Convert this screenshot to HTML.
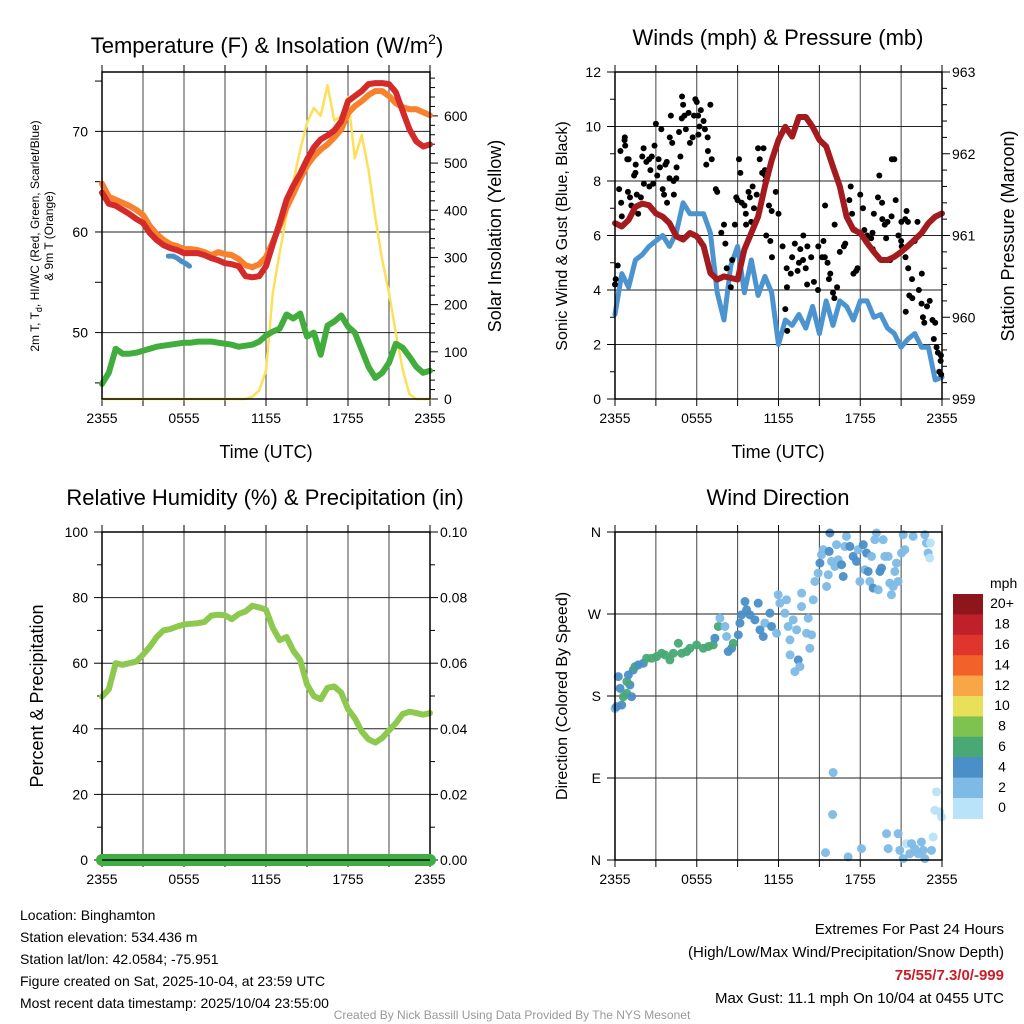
<!DOCTYPE html>
<html><head><meta charset="utf-8"><style>
html,body{margin:0;padding:0;background:#fff;}
svg{display:block;font-family:"Liberation Sans",sans-serif;}
</style></head><body>
<svg id="chart" width="1024" height="1024" viewBox="0 0 1024 1024" xmlns="http://www.w3.org/2000/svg">
<rect width="1024" height="1024" fill="#fff"/>
<g id="p1"></g>
<g id="p2"></g>
<g id="p3"></g>
<g id="p4"></g>
<g id="cb"></g>

<text x="267" y="53" font-size="22" text-anchor="middle">Temperature (F) &amp; Insolation (W/m<tspan dy="-9" font-size="14">2</tspan><tspan dy="9">)</tspan></text>
<text x="778" y="45" font-size="22" text-anchor="middle">Winds (mph) &amp; Pressure (mb)</text>
<text x="265" y="505" font-size="22" text-anchor="middle">Relative Humidity (%) &amp; Precipitation (in)</text>
<text x="778" y="505" font-size="22" text-anchor="middle">Wind Direction</text>

<text x="266" y="458" font-size="18" text-anchor="middle">Time (UTC)</text>
<text x="778" y="458" font-size="18" text-anchor="middle">Time (UTC)</text>
<text font-size="12" text-anchor="middle" transform="translate(39,236) rotate(-90)">2m T, T<tspan font-size="9" dy="3">d</tspan><tspan dy="-3">, HI/WC (Red, Green, Scarlet/Blue)</tspan></text>
<text font-size="12" text-anchor="middle" transform="translate(53,236) rotate(-90)">&amp; 9m T (Orange)</text>
<text font-size="18" text-anchor="middle" transform="translate(501,236) rotate(-90)">Solar Insolation (Yellow)</text>
<text font-size="16" text-anchor="middle" transform="translate(567,236) rotate(-90)">Sonic Wind &amp; Gust (Blue, Black)</text>
<text font-size="18" text-anchor="middle" transform="translate(1014,236) rotate(-90)">Station Pressure (Maroon)</text>
<text font-size="18" text-anchor="middle" transform="translate(43,696) rotate(-90)">Percent &amp; Precipitation</text>
<text font-size="16" text-anchor="middle" transform="translate(567,696) rotate(-90)">Direction (Colored By Speed)</text>

<g font-size="14">
<text x="20" y="920">Location: Binghamton</text>
<text x="20" y="942">Station elevation: 534.436 m</text>
<text x="20" y="964">Station lat/lon: 42.0584; -75.951</text>
<text x="20" y="986">Figure created on Sat, 2025-10-04, at 23:59 UTC</text>
<text x="20" y="1008">Most recent data timestamp: 2025/10/04 23:55:00</text>
</g>
<g font-size="15" text-anchor="end">
<text x="1004" y="934">Extremes For Past 24 Hours</text>
<text x="1004" y="957">(High/Low/Max Wind/Precipitation/Snow Depth)</text>
<text x="1004" y="980" fill="#c8202a" font-weight="bold">75/55/7.3/0/-999</text>
<text x="1004" y="1003">Max Gust: 11.1 mph On 10/04 at 0455 UTC</text>
</g>
<text x="512" y="1019" font-size="12" fill="#999" text-anchor="middle">Created By Nick Bassill Using Data Provided By The NYS Mesonet</text>
</svg>
<script>
const times=[0,0.5,1,1.5,2,2.5,3,3.5,4,4.5,5,5.5,6,6.5,7,7.5,8,8.5,9,9.5,10,10.5,11,11.5,12,12.5,13,13.5,14,14.5,15,15.5,16,16.5,17,17.5,18,18.5,19,19.5,20,20.5,21,21.5,22,22.5,23,23.5,24];
const tempRed=[63.9,62.8,62.6,62.2,61.8,61.3,60.9,59.9,59.2,58.7,58.4,58.2,57.9,57.9,57.9,57.7,57.4,57.2,56.9,56.8,56.6,55.6,55.5,55.6,56.6,58.8,60.9,63.2,64.6,65.8,67.2,68.4,69.2,69.6,70.1,71.0,73.0,73.5,74.0,74.7,74.8,74.8,74.7,73.9,72.0,70.2,69.0,68.5,68.7];
const temp9m=[64.8,63.5,63.2,62.9,62.6,62.2,61.7,60.6,59.8,59.2,58.8,58.6,58.3,58.3,58.2,58.0,57.7,58.0,57.8,57.7,57.3,56.7,56.5,56.8,57.5,59.0,60.6,62.4,63.8,65.3,66.6,67.5,68.2,68.7,69.4,70.2,71.8,72.5,73.0,73.6,74.0,74.0,73.5,72.8,72.4,72.2,72.2,71.9,71.6];
const dewpoint=[44.9,46.0,48.4,47.9,47.9,48.0,48.2,48.4,48.6,48.7,48.8,48.9,49.0,49.0,49.1,49.1,49.1,49.0,48.9,48.8,48.6,48.7,48.8,49.1,49.7,50.1,50.4,51.8,51.4,51.9,49.6,50.0,47.8,50.7,51.1,51.7,50.6,50.0,48.3,46.6,45.5,46.0,47.0,48.9,48.5,47.6,46.6,46.0,46.2];
const hiTimes=[4.85,5.2,5.5,5.8,6.1,6.4];
const hiTemps=[57.6,57.6,57.4,57.1,56.9,56.6];
const solar=[0,0,0,0,0,0,0,0,0,0,0,0,0,0,0,0,0,0,0,0,0,0,5,18,60,225,310,390,460,528,585,617,600,665,590,600,640,510,560,486,385,295,225,140,62,10,0,0,0];
const windSpeed=[3.1,4.6,4.1,5.1,5.3,5.6,5.8,6.0,5.6,6.1,7.2,6.8,6.8,6.8,6.1,3.9,2.9,4.9,5.6,3.9,5.1,3.8,4.5,3.9,2.0,2.9,2.7,3.1,2.6,3.4,2.4,3.6,2.7,3.6,3.4,2.9,3.6,3.6,3.0,3.1,2.6,2.4,1.9,2.2,2.4,1.9,1.9,0.7,0.8];
const pressure=[961.15,961.11,961.19,961.35,961.39,961.37,961.27,961.23,961.15,960.99,960.95,961.03,960.99,960.87,960.54,960.46,960.5,960.48,960.46,960.83,961.03,961.23,961.6,961.92,962.17,962.33,962.21,962.45,962.45,962.33,962.17,962.09,961.84,961.6,961.23,961.07,961.03,960.91,960.8,960.7,960.7,960.74,960.8,960.87,960.95,961.03,961.15,961.23,961.27];
const gustHours=[0,0.05,0.2,0.3,0.4,0.45,0.5,0.7,0.72,0.75,0.9,1.0,0.95,1.1,1.2,1.4,1.5,1.52,1.6,1.7,1.9,2.0,2.1,2.12,2.3,2.5,2.52,2.6,2.7,2.9,3.0,2.8,3.1,3.2,3.3,3.4,3.5,3.6,3.7,3.8,3.82,4.0,4.02,4.1,4.2,4.3,4.32,4.5,4.52,4.7,4.8,4.9,4.92,5.0,5.1,5.2,5.4,5.5,5.7,5.8,5.9,6.0,6.1,6.3,6.2,6.12,6.5,6.6,6.8,6.7,6.82,7.0,7.1,7.4,7.5,7.8,8.0,8.1,8.2,8.5,8.6,8.8,8.9,9.0,9.1,9.2,9.3,9.5,9.6,9.62,9.8,9.9,10.0,10.1,10.2,10.4,10.6,10.5,10.62,10.8,11.0,10.9,11.02,11.04,11.3,11.5,11.8,12.0,11.1,11.4,11.52,12.3,12.6,12.5,12.62,12.64,12.9,13.0,13.2,13.4,13.5,13.6,13.8,14.0,13.82,14.1,14.12,14.4,14.6,14.9,14.92,15.2,15.4,15.8,15.3,15.42,15.6,15.7,16.0,16.1,16.3,16.12,16.5,16.8,16.9,17.2,17.3,17.4,17.5,17.7,17.8,17.6,18.0,18.2,18.3,18.5,18.8,18.9,18.92,19.0,19.3,19.4,19.6,19.62,19.8,19.9,20.2,20.0,20.3,20.32,20.5,20.6,20.8,21.0,21.02,21.3,21.4,21.5,21.04,21.32,21.52,21.8,21.34,21.6,21.82,22.2,22.0,22.3,22.5,22.52,22.6,22.7,22.9,23.1,23.3,23.5,23.4,23.6,23.7,23.8,23.9,23.92,23.94];
const gustSpeeds=[4.2,4.4,4.9,7.7,9.1,7.2,6.7,9.5,9.6,9.3,8.8,8.8,7.6,7.4,7.1,8.2,8.3,8.6,7.5,6.8,7.4,8.9,9.2,7.9,8.7,8.8,7.8,8.4,8.9,9.3,10.1,7.9,8.2,8.8,8.5,9.9,7.7,7.5,8.6,8.7,7.2,8.1,9.6,10.4,9.4,8.0,7.5,8.1,8.5,9.8,8.9,10.3,11.1,10.8,10.4,9.9,10.5,9.4,9.6,10.4,11.0,10.9,10.4,10.6,10.0,9.7,10.2,9.9,9.6,8.6,9.1,10.8,8.8,7.7,7.6,6.1,6.4,5.7,4.8,4.1,5.1,6.4,7.4,7.3,8.8,8.3,7.2,7.1,6.8,6.4,7.6,7.4,6.5,7.8,7.0,7.5,6.9,9.2,8.8,8.3,8.4,9.2,8.2,8.0,7.1,6.9,7.6,6.8,6.0,5.8,5.2,5.6,4.8,3.3,4.1,2.5,4.6,5.2,5.7,4.7,5.0,5.5,5.1,4.8,6.0,4.2,5.6,5.2,4.3,4.0,5.6,5.2,5.2,4.6,5.8,7.1,5.0,4.4,3.9,3.7,4.1,6.4,5.4,5.6,5.7,7.3,7.8,6.8,4.6,4.7,4.8,6.2,7.5,7.0,6.2,6.0,5.9,6.1,5.5,6.8,7.4,8.2,7.2,6.6,6.4,5.9,5.1,6.5,6.7,8.8,8.8,7.3,6.0,5.8,6.5,6.6,6.9,6.5,5.6,5.2,4.8,4.4,3.2,3.8,3.7,6.5,5.8,4.0,3.5,4.6,3.0,2.8,3.4,3.6,2.9,2.8,2.2,1.9,1.7,1.0,1.4,1.6,0.9];
const humidity=[49.8,52,60,59.5,60,60.5,62.6,65,68,70,70.4,71.2,71.8,72,72.2,72.6,74.5,74.8,74.6,73.4,75,75.8,77.5,77,76.3,70.8,67,68,63.8,61,53.5,50,49,52.5,52.9,51,46,43.2,39.2,36.8,35.8,37.2,39.5,41.7,44.5,45.2,44.8,44.3,44.8];
const precip=[0,0,0,0,0,0,0,0,0,0,0,0,0,0,0,0,0,0,0,0,0,0,0,0,0,0,0,0,0,0,0,0,0,0,0,0,0,0,0,0,0,0,0,0,0,0,0,0,0];
const dirHours=[0,0.12,0.49,0.61,0.86,0.37,1.1,1.22,0.24,0.87,0.98,1.34,1.47,1.71,2.08,2.32,2.69,3.06,3.42,3.67,4.03,4.28,4.65,4.89,5.26,5.5,5.99,6.48,6.85,7.21,7.33,7.58,7.7,8.07,8.19,8.31,8.56,8.68,9.05,9.17,9.29,9.54,9.66,9.9,10.27,10.51,10.64,10.88,11.0,11.37,11.49,11.86,11.98,12.1,12.47,12.59,12.71,12.84,12.85,13.08,13.2,13.33,13.45,13.57,13.69,13.7,14.06,14.18,14.3,14.43,14.55,14.67,14.91,15.04,15.16,15.28,15.53,15.65,15.72,15.77,15.89,16.14,16.26,16.38,16.63,16.75,16.87,16.99,17.24,17.48,17.73,17.85,17.97,18.22,18.34,18.46,18.58,18.7,18.83,18.95,19.07,19.19,19.32,19.44,19.56,19.68,19.8,20.05,20.17,20.29,20.42,20.54,20.66,20.78,21.03,21.15,21.27,21.88,22.74,22.86,22.98,23.1,23.15,16.01,15.97,15.45,17.11,18.09,19.93,20.05,20.78,20.9,21.15,21.39,21.64,21.76,22.0,22.25,22.49,22.62,22.74,23.23,23.35,23.47,23.59,23.84,23.96];
const dirDegrees=[166.4,168.3,170.1,179.3,182.9,188.4,192.1,179.3,201.3,195.8,203.1,208.6,212.3,214.1,215.9,221.4,221.4,223.3,226.9,225.1,219.6,226.9,237.9,226.9,228.8,232.4,236.1,232.4,234.3,236.1,243.4,256.3,265.4,256.3,245.3,228.8,232.4,237.9,247.1,260,269.1,283.7,274.6,269.1,263.6,281.9,252.6,245.3,260,270.9,256.3,248.9,291.1,281.9,270.9,285.6,256.3,241.6,225.1,263.6,206.8,252.6,219.6,212.3,278.2,292.9,248.9,265.4,232.4,247.1,285.6,305.7,314.9,325.9,335.1,340.6,300.2,313.1,338.7,358.9,327.7,322.2,346.1,329.6,324.1,311.2,344.2,355.2,344.2,333.2,327.7,340.6,305.7,346.1,318.6,336.9,316.7,305.7,333.2,298.4,351.6,358.9,296.6,316.7,320.4,351.6,333.2,333.2,303.9,291.1,300.2,316.7,325.9,305.7,336.9,357.1,340.6,355.2,357.1,347.9,336.9,331.4,347.9,96.0,49.9,8.1,3.4,12.5,28.9,12.5,28.9,10.6,1.5,18.0,6.9,18.0,12.5,6.9,19.8,10.6,1.5,10.6,25.3,54.6,74.8,52.8,47.3];
const dirSpeeds=[3,5,5,7,7,5,5,5,5,7,5,5,7,5,5,7,7,7,7,7,7,7,7,7,7,7,7,7,7,7,5,7,3,3,3,5,5,7,5,5,5,5,5,5,5,5,5,5,3,5,5,3,3,3,3,3,3,3,3,3,3,3,5,3,3,3,3,3,3,3,3,3,3,5,3,3,3,3,5,5,3,3,3,3,5,5,3,3,5,5,5,3,3,5,3,5,5,3,3,5,3,3,3,5,5,3,3,3,3,3,3,3,3,3,3,3,3,3,3,3,3,1,1,3,3,3,3,3,3,3,3,3,3,1,3,3,3,3,3,3,3,3,1,1,1,1,1];
const xTickLabels=["2355","0555","1155","1755","2355"];
const tempTicks=[50,60,70];
const solarTicks=[0,100,200,300,400,500,600];
const windTicks=[0,2,4,6,8,10,12];
const presTicks=[959,960,961,962,963];
const rhTicks=[0,20,40,60,80,100];
const prTicks=["0.00","0.02","0.04","0.06","0.08","0.10"];
const dirLabels=["N","E","S","W","N"];
const cbLabels=["20+","18","16","14","12","10","8","6","4","2","0"];
const cbColors=["#8e1519","#c0202a","#e0352c","#f26128","#f9a746","#e9e05a","#7ec24f","#48a974","#4a8fc7","#7dbbe6","#b8e3f8"];

const NS="http://www.w3.org/2000/svg";
function mk(parent,tag,attrs){const e=document.createElementNS(NS,tag);for(const k in attrs)e.setAttribute(k,attrs[k]);parent.appendChild(e);return e;}
function scale(d0,d1,r0,r1){return v=>r0+(v-d0)/(d1-d0)*(r1-r0);}
function pathD(xs,ys,fx,fy){return xs.map((x,i)=>(i?"L":"M")+fx(x).toFixed(1)+","+fy(ys[i]).toFixed(1)).join("");}

function frame(g,L,R,T,B,hLines){
  const sx=scale(0,24,L,R);
  for(let h=3;h<24;h+=3){const l=mk(g,"line",{x1:sx(h),x2:sx(h),y1:T,y2:B,stroke:"#444","stroke-width":1});}
  hLines.forEach(y=>{const l=mk(g,"line",{x1:L,x2:R,y1:y,y2:y,stroke:"#222","stroke-width":1});});
  for(let h=0;h<=24;h+=3){mk(g,"line",{x1:sx(h),x2:sx(h),y1:B,y2:B+7,stroke:"#000"});mk(g,"line",{x1:sx(h),x2:sx(h),y1:T,y2:T-7,stroke:"#000"});}
  xTickLabels.forEach((t,i)=>{const e=mk(g,"text",{x:sx(i*6),y:B+24,"font-size":14,"text-anchor":"middle"});e.textContent=t;});
  return sx;
}
function border(g,L,R,T,B){const r=mk(g,"rect",{x:L,y:T,width:R-L,height:B-T,fill:"none",stroke:"#000","stroke-width":1.5});}
function lineMark(g,xs,ys,fx,fy,color,w,name){const p=mk(g,"path",{d:pathD(xs,ys,fx,fy),fill:"none",stroke:color,"stroke-width":w,"stroke-linejoin":"round","stroke-linecap":"round"});return p;}

// Panel 1
(function(){
 const g=document.getElementById("p1");const L=102,R=430,T=72,B=399;
 const sy=scale(43.4,75.9,B,T), sy2=scale(0,693,B,T);
 const sx=frame(g,L,R,T,B,tempTicks.map(sy));
 for(let v=45;v<=75;v+=5){mk(g,"line",{x1:L-7,x2:L,y1:sy(v),y2:sy(v),stroke:"#000"});}
 tempTicks.forEach(v=>{const e=mk(g,"text",{x:L-14,y:sy(v)+5,"font-size":14,"text-anchor":"end"});e.textContent=v;});
 for(let v=0;v<=680;v+=20){mk(g,"line",{x1:R,x2:R+(v%100===0?8:5),y1:sy2(v),y2:sy2(v),stroke:"#000"});}
 solarTicks.forEach(v=>{const e=mk(g,"text",{x:R+14,y:sy2(v)+5,"font-size":14});e.textContent=v;});
 lineMark(g,times,solar,sx,sy2,"#fde05a",2.5,"solar-insolation-line");
 lineMark(g,times,temp9m,sx,sy,"#f7812c",6,"temp-9m-line");
 lineMark(g,times,tempRed,sx,sy,"#d42a2a",6,"temp-2m-line");
 lineMark(g,times,dewpoint,sx,sy,"#41ad3d",6,"dewpoint-line");
 lineMark(g,hiTimes,hiTemps,sx,sy,"#4a8fc7",5,"heat-index-line");
 border(g,L,R,T,B);
})();
// Panel 2
(function(){
 const g=document.getElementById("p2");const L=615,R=942,T=72,B=399;
 const sy=scale(0,12,B,T), sy2=scale(959,963,B,T);
 const sx=frame(g,L,R,T,B,[2,4,6,8,10].map(sy));
 for(let v=0;v<=12;v+=1){mk(g,"line",{x1:L-(v%2?5:8),x2:L,y1:sy(v),y2:sy(v),stroke:"#000"});}
 windTicks.forEach(v=>{const e=mk(g,"text",{x:L-14,y:sy(v)+5,"font-size":14,"text-anchor":"end"});e.textContent=v;});
 for(let v=959;v<=963.001;v+=0.2){const m=Math.abs(v-Math.round(v))<0.01;mk(g,"line",{x1:R,x2:R+(m?8:5),y1:sy2(v),y2:sy2(v),stroke:"#000"});}
 presTicks.forEach(v=>{const e=mk(g,"text",{x:R+10,y:sy2(v)+5,"font-size":14});e.textContent=v;});
 lineMark(g,times,windSpeed,sx,sy,"#4c94d0",5,"sonic-wind-line");
 gustHours.forEach((h,i)=>{const c=mk(g,"circle",{cx:sx(h),cy:sy(gustSpeeds[i]),r:3,fill:"#000"});});
 lineMark(g,times,pressure,sx,sy2,"#a31b1e",6,"pressure-line");
 border(g,L,R,T,B);
})();
// Panel 3
(function(){
 const g=document.getElementById("p3");const L=102,R=430,T=532,B=860;
 const sy=scale(0,100,B,T), sy2=scale(0,0.1,B,T);
 const sx=frame(g,L,R,T,B,[20,40,60,80].map(sy));
 for(let v=0;v<=100;v+=10){mk(g,"line",{x1:L-(v%20?5:8),x2:L,y1:sy(v),y2:sy(v),stroke:"#000"});mk(g,"line",{x1:R,x2:R+(v%20?5:8),y1:sy(v),y2:sy(v),stroke:"#000"});}
 rhTicks.forEach(v=>{const e=mk(g,"text",{x:L-14,y:sy(v)+5,"font-size":14,"text-anchor":"end"});e.textContent=v;});
 prTicks.forEach((t,i)=>{const e=mk(g,"text",{x:R+10,y:sy(i*20)+5,"font-size":14});e.textContent=t;});
 lineMark(g,times,humidity,sx,sy,"#8dc94e",6,"humidity-line");
 border(g,L,R,T,B);
 lineMark(g,times,precip,sx,sy2,"#3fae45",12,"precip-line");
 mk(g,"line",{x1:L,x2:R,y1:B,y2:B,stroke:"#111","stroke-width":1.5});
})();
// Panel 4
(function(){
 const g=document.getElementById("p4");const L=615,R=942,T=532,B=860;
 const sy=scale(0,360,B,T);
 const sx=frame(g,L,R,T,B,[90,180,270].map(sy));
 dirLabels.forEach((t,i)=>{mk(g,"line",{x1:L-8,x2:L,y1:sy(i*90),y2:sy(i*90),stroke:"#000"});const e=mk(g,"text",{x:L-14,y:sy(i*90)+5,"font-size":14,"text-anchor":"end"});e.textContent=t;});
 function col(s){const i=Math.min(10,Math.floor(s/2));return cbColors[10-i];}
 dirHours.forEach((h,i)=>{const c=mk(g,"circle",{cx:sx(h),cy:sy(dirDegrees[i]),r:4.5,fill:col(dirSpeeds[i]),"fill-opacity":0.95});});
 border(g,L,R,T,B);
})();
// Colorbar
(function(){
 const g=document.getElementById("cb");const x=953,w=30,top=594,h=20.4;
 const t=mk(g,"text",{x:990,y:588,"font-size":14});t.textContent="mph";
 cbColors.forEach((c,i)=>{const r=mk(g,"rect",{x:x,y:top+i*h,width:w,height:h+0.5,fill:c});
  const e=mk(g,"text",{x:1002,y:top+i*h+h/2+4,"font-size":14,"text-anchor":"middle"});e.textContent=cbLabels[i];});
})();
</script>
</body></html>
